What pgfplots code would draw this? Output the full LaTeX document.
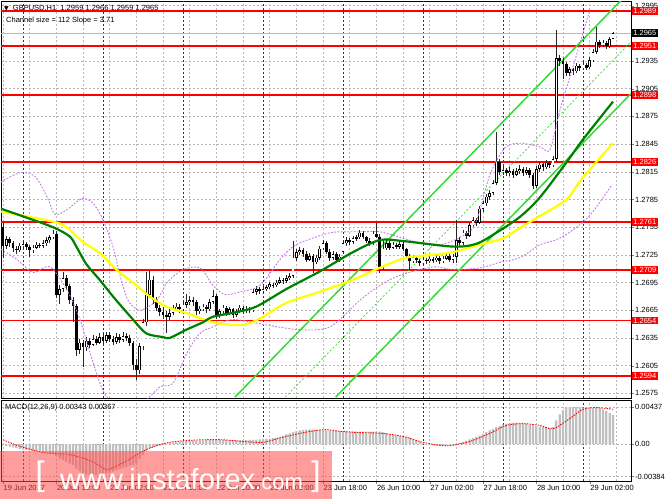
\documentclass[border=0pt]{standalone}
\usepackage{fontspec}
\setmainfont{Liberation Sans}
\newfontfamily\symfont{DejaVu Sans}
\usepackage{pgfplots}
\usepackage{pgfplotstable}
\pgfplotsset{compat=1.18}
\definecolor{mtgreen}{RGB}{0,128,0}
\definecolor{mtyellow}{RGB}{255,255,0}
\definecolor{chan}{RGB}{50,220,50}
\definecolor{viol}{RGB}{195,120,230}
\definecolor{lvl}{RGB}{255,0,0}
\definecolor{gridc}{RGB}{185,185,185}
\definecolor{histc}{RGB}{192,192,192}
\tikzset{lvbox/.style={fill=lvl, text=white, inner sep=1.2pt, anchor=west, font=\fontsize{7.5}{8}\selectfont, xshift=1pt}}

\pgfplotstableread{
i o h l c
0 1.2755 1.2760 1.2722 1.2735
1 1.2735 1.2746 1.2731 1.2742
2 1.2742 1.2745 1.2734 1.2738
3 1.2738 1.2740 1.2728 1.2732
4 1.2732 1.2735 1.2726 1.2730
5 1.2730 1.2738 1.2728 1.2735
6 1.2735 1.2740 1.2732 1.2737
7 1.2737 1.2739 1.2730 1.2734
8 1.2734 1.2736 1.2723 1.2730
9 1.2730 1.2736 1.2727 1.2733
10 1.2733 1.2739 1.2731 1.2736
11 1.2736 1.2738 1.2732 1.2735
12 1.2735 1.2741 1.2733 1.2738
13 1.2738 1.2744 1.2735 1.2741
14 1.2741 1.2747 1.2738 1.2744
15 1.2744 1.2752 1.2742 1.2748
16 1.2748 1.2751 1.2678 1.2682
17 1.2682 1.2692 1.2672 1.2688
18 1.2688 1.2706 1.2685 1.2700
19 1.2700 1.2703 1.2687 1.2691
20 1.2691 1.2694 1.2672 1.2676
21 1.2676 1.2680 1.2652 1.2670
22 1.2670 1.2672 1.2616 1.2622
23 1.2622 1.2634 1.2618 1.2630
24 1.2630 1.2633 1.2604 1.2625
25 1.2625 1.2636 1.2621 1.2632
26 1.2632 1.2635 1.2624 1.2628
27 1.2628 1.2638 1.2626 1.2634
28 1.2634 1.2637 1.2627 1.2630
29 1.2630 1.2640 1.2628 1.2636
30 1.2636 1.2639 1.2629 1.2632
31 1.2632 1.2642 1.2630 1.2638
32 1.2638 1.2641 1.2631 1.2634
33 1.2634 1.2637 1.2628 1.2631
34 1.2631 1.2640 1.2629 1.2636
35 1.2636 1.2639 1.2630 1.2633
36 1.2633 1.2641 1.2631 1.2637
37 1.2637 1.2640 1.2632 1.2635
38 1.2635 1.2638 1.2626 1.2630
39 1.2630 1.2632 1.2600 1.2606
40 1.2606 1.2612 1.2590 1.2600
41 1.2600 1.2630 1.2596 1.2626
42 1.2626 1.2656 1.2622 1.2652
43 1.2652 1.2707 1.2648 1.2682
44 1.2682 1.2708 1.2678 1.2698
45 1.2698 1.2702 1.2672 1.2676
46 1.2676 1.2679 1.2664 1.2668
47 1.2668 1.2671 1.2659 1.2663
48 1.2663 1.2669 1.2656 1.2660
49 1.2660 1.2664 1.2641 1.2658
50 1.2658 1.2666 1.2655 1.2662
51 1.2662 1.2671 1.2660 1.2667
52 1.2667 1.2673 1.2664 1.2669
53 1.2669 1.2672 1.2662 1.2666
54 1.2666 1.2675 1.2664 1.2671
55 1.2671 1.2683 1.2668 1.2674
56 1.2674 1.2680 1.2671 1.2676
57 1.2676 1.2679 1.2670 1.2674
58 1.2674 1.2676 1.2660 1.2664
59 1.2664 1.2670 1.2661 1.2667
60 1.2667 1.2672 1.2664 1.2669
61 1.2669 1.2671 1.2662 1.2666
62 1.2666 1.2677 1.2664 1.2674
63 1.2674 1.2687 1.2672 1.2680
64 1.2680 1.2683 1.2656 1.2660
65 1.2660 1.2667 1.2657 1.2664
66 1.2664 1.2671 1.2661 1.2668
67 1.2668 1.2670 1.2659 1.2662
68 1.2662 1.2669 1.2660 1.2666
69 1.2666 1.2668 1.2657 1.2660
70 1.2660 1.2667 1.2658 1.2664
71 1.2664 1.2671 1.2662 1.2668
72 1.2668 1.2670 1.2661 1.2664
73 1.2664 1.2670 1.2662 1.2667
74 1.2667 1.2669 1.2662 1.2665
75 1.2665 1.2688 1.2663 1.2685
76 1.2685 1.2691 1.2682 1.2688
77 1.2688 1.2690 1.2683 1.2686
78 1.2686 1.2691 1.2684 1.2688
79 1.2688 1.2693 1.2686 1.2690
80 1.2690 1.2696 1.2688 1.2693
81 1.2693 1.2695 1.2689 1.2692
82 1.2692 1.2698 1.2690 1.2695
83 1.2695 1.2701 1.2693 1.2698
84 1.2698 1.2700 1.2694 1.2697
85 1.2697 1.2703 1.2695 1.2700
86 1.2700 1.2705 1.2698 1.2702
87 1.2702 1.2740 1.2700 1.2722
88 1.2722 1.2732 1.2719 1.2728
89 1.2728 1.2734 1.2725 1.2730
90 1.2730 1.2733 1.2723 1.2726
91 1.2726 1.2729 1.2717 1.2720
92 1.2720 1.2727 1.2718 1.2724
93 1.2724 1.2726 1.2705 1.2717
94 1.2717 1.2725 1.2715 1.2722
95 1.2722 1.2735 1.2720 1.2732
96 1.2732 1.2741 1.2730 1.2738
97 1.2738 1.2740 1.2726 1.2728
98 1.2728 1.2731 1.2719 1.2722
99 1.2722 1.2729 1.2720 1.2726
100 1.2726 1.2728 1.2716 1.2719
101 1.2719 1.2726 1.2717 1.2723
102 1.2728 1.2741 1.2726 1.2738
103 1.2738 1.2744 1.2735 1.2741
104 1.2741 1.2743 1.2736 1.2739
105 1.2739 1.2746 1.2737 1.2743
106 1.2743 1.2747 1.2740 1.2744
107 1.2744 1.2752 1.2742 1.2749
108 1.2749 1.2751 1.2742 1.2744
109 1.2744 1.2746 1.2738 1.2740
110 1.2740 1.2743 1.2735 1.2738
111 1.2738 1.2751 1.2736 1.2748
112 1.2748 1.2760 1.2743 1.2745
113 1.2745 1.2748 1.2706 1.2712
114 1.2712 1.2740 1.2709 1.2732
115 1.2732 1.2741 1.2730 1.2738
116 1.2738 1.2740 1.2730 1.2733
117 1.2733 1.2739 1.2731 1.2736
118 1.2736 1.2738 1.2731 1.2734
119 1.2734 1.2740 1.2732 1.2737
120 1.2737 1.2739 1.2729 1.2731
121 1.2731 1.2733 1.2722 1.2724
122 1.2724 1.2726 1.2709 1.2718
123 1.2718 1.2725 1.2716 1.2722
124 1.2722 1.2724 1.2716 1.2719
125 1.2719 1.2721 1.2713 1.2716
126 1.2716 1.2723 1.2714 1.2720
127 1.2720 1.2722 1.2715 1.2718
128 1.2718 1.2724 1.2716 1.2721
129 1.2721 1.2723 1.2716 1.2719
130 1.2719 1.2725 1.2717 1.2722
131 1.2722 1.2724 1.2715 1.2718
132 1.2718 1.2724 1.2716 1.2721
133 1.2721 1.2727 1.2719 1.2724
134 1.2724 1.2726 1.2717 1.2720
135 1.2720 1.2726 1.2716 1.2723
136 1.2723 1.2763 1.2716 1.2741
137 1.2741 1.2744 1.2734 1.2738
138 1.2738 1.2752 1.2736 1.2749
139 1.2749 1.2751 1.2742 1.2746
140 1.2746 1.2760 1.2744 1.2757
141 1.2757 1.2766 1.2754 1.2763
142 1.2763 1.2765 1.2756 1.2760
143 1.2760 1.2778 1.2758 1.2775
144 1.2775 1.2784 1.2772 1.2781
145 1.2781 1.2791 1.2778 1.2788
146 1.2788 1.2795 1.2785 1.2792
147 1.2792 1.2806 1.2790 1.2803
148 1.2803 1.2858 1.2801 1.2826
149 1.2826 1.2829 1.2812 1.2815
150 1.2815 1.2821 1.2812 1.2817
151 1.2817 1.2819 1.2810 1.2814
152 1.2814 1.2820 1.2811 1.2816
153 1.2816 1.2818 1.2808 1.2812
154 1.2812 1.2819 1.2810 1.2816
155 1.2816 1.2822 1.2813 1.2818
156 1.2818 1.2820 1.2811 1.2814
157 1.2814 1.2820 1.2812 1.2817
158 1.2817 1.2819 1.2808 1.2812
159 1.2812 1.2814 1.2796 1.2800
160 1.2800 1.2821 1.2798 1.2818
161 1.2818 1.2826 1.2815 1.2823
162 1.2823 1.2825 1.2816 1.2820
163 1.2820 1.2828 1.2818 1.2825
164 1.2825 1.2827 1.2819 1.2822
165 1.2822 1.2832 1.2820 1.2829
166 1.2829 1.2969 1.2826 1.2938
167 1.2938 1.2942 1.2930 1.2935
168 1.2935 1.2938 1.2915 1.2932
169 1.2932 1.2934 1.2919 1.2922
170 1.2922 1.2929 1.2919 1.2926
171 1.2926 1.2928 1.2920 1.2924
172 1.2924 1.2933 1.2922 1.2930
173 1.2930 1.2932 1.2924 1.2927
174 1.2927 1.2934 1.2925 1.2931
175 1.2931 1.2933 1.2925 1.2928
176 1.2928 1.2939 1.2926 1.2936
177 1.2936 1.2948 1.2934 1.2945
178 1.2945 1.2972 1.2943 1.2956
179 1.2956 1.2958 1.2949 1.2952
180 1.2952 1.2958 1.2950 1.2955
181 1.2955 1.2957 1.2948 1.2951
182 1.2951 1.2961 1.2949 1.2959
183 1.2959 1.2966 1.2959 1.2965
}\candles

\pgfplotstableread[row sep=\\]{
i m\\ 0 -20\\ 1 -25\\ 2 -30\\ 3 -40\\ 4 -50\\ 5 -60\\ 6 -65\\ 7 -70\\ 8 -75\\ 9 -80\\
10 -85\\ 11 -90\\ 12 -95\\ 13 -100\\ 14 -105\\ 15 -110\\ 16 -140\\ 17 -170\\ 18 -190\\ 19 -210\\
20 -230\\ 21 -250\\ 22 -290\\ 23 -320\\ 24 -345\\ 25 -360\\ 26 -370\\ 27 -372\\ 28 -370\\ 29 -365\\
30 -360\\ 31 -350\\ 32 -340\\ 33 -325\\ 34 -310\\ 35 -295\\ 36 -280\\ 37 -270\\ 38 -255\\ 39 -250\\
40 -230\\ 41 -180\\ 42 -130\\ 43 -80\\ 44 -50\\ 45 -40\\ 46 -25\\ 47 -15\\ 48 -5\\ 49 5\\
50 10\\ 51 15\\ 52 20\\ 53 25\\ 54 30\\ 55 35\\ 56 35\\ 57 40\\ 58 40\\ 59 40\\
60 42\\ 61 45\\ 62 48\\ 63 50\\ 64 50\\ 65 48\\ 66 48\\ 67 45\\ 68 45\\ 69 45\\
70 45\\ 71 45\\ 72 45\\ 73 45\\ 74 48\\ 75 50\\ 76 52\\ 77 55\\ 78 58\\ 79 60\\
80 65\\ 81 70\\ 82 75\\ 83 85\\ 84 100\\ 85 115\\ 86 125\\ 87 140\\ 88 150\\ 89 160\\
90 165\\ 91 170\\ 92 172\\ 93 170\\ 94 168\\ 95 165\\ 96 165\\ 97 162\\ 98 160\\ 99 158\\
100 155\\ 101 152\\ 102 150\\ 103 148\\ 104 145\\ 105 145\\ 106 145\\ 107 145\\ 108 145\\ 109 145\\
110 145\\ 111 145\\ 112 145\\ 113 145\\ 114 140\\ 115 130\\ 116 120\\ 117 110\\ 118 100\\ 119 95\\
120 90\\ 121 85\\ 122 75\\ 123 55\\ 124 40\\ 125 25\\ 126 10\\ 127 0\\ 128 -10\\ 129 -15\\
130 -20\\ 131 -20\\ 132 -20\\ 133 -18\\ 134 -15\\ 135 -10\\ 136 0\\ 137 10\\ 138 25\\ 139 40\\
140 55\\ 141 70\\ 142 85\\ 143 100\\ 144 120\\ 145 140\\ 146 160\\ 147 180\\ 148 200\\ 149 215\\
150 230\\ 151 240\\ 152 250\\ 153 250\\ 154 250\\ 155 248\\ 156 245\\ 157 240\\ 158 230\\ 159 220\\
160 210\\ 161 205\\ 162 200\\ 163 200\\ 164 195\\ 165 200\\ 166 280\\ 167 350\\ 168 400\\ 169 430\\
170 437\\ 171 437\\ 172 435\\ 173 432\\ 174 430\\ 175 428\\ 176 428\\ 177 428\\ 178 430\\ 179 425\\
180 410\\ 181 390\\ 182 365\\ 183 343\\
}\macd

\begin{document}
\begin{tikzpicture}[x=1pt,y=1pt]
\useasboundingbox (0,0) rectangle (665,499);
\pgfplotsset{
  mtbase/.style={
    scale only axis, anchor=south west, xmin=-0.6, xmax=188.4,
    clip mode=individual,
    axis line style={black, line width=0.6pt},
    tick align=outside, major tick length=3pt,
    ytick pos=right, yticklabel pos=right,
    yticklabel style={anchor=west, inner sep=1pt, font=\fontsize{7.5}{8}\selectfont},
    grid=both,
    major grid style={gridc, dash pattern=on 2pt off 2pt, line width=0.5pt},
    minor grid style={gridc, dash pattern=on 2pt off 2pt, line width=0.5pt},
    minor tick length=0pt,
    extra x ticks={6,30,54,78,102,126,150,174}, extra x tick labels={},
    extra x tick style={grid=major, major grid style={black!80, dash pattern=on 2pt off 2pt, line width=0.6pt}, major tick length=0pt},
  },
  lvline/.style={lvl, line width=1.8pt, forget plot},
  vband/.style={viol, line width=0.9pt, dash pattern=on 1.8pt off 1.5pt, smooth},
}
% ---------------- main panel
\begin{axis}[mtbase,
  at={(1pt,101pt)}, width=630pt, height=397pt,
  ymin=1.2570, ymax=1.3000,
  xtick={0,16,...,176}, minor xtick={8,24,...,184}, xticklabels={}, xtick style={draw=none},
  ytick={1.2575,1.2605,1.2635,1.2665,1.2695,1.2725,1.2755,1.2785,1.2815,1.2845,1.2875,1.2905,1.2935,1.2965,1.2995},
  yticklabels={1.2575,1.2605,1.2635,1.2665,1.2695,1.2725,1.2755,1.2785,1.2815,1.2845,1.2875,1.2905,1.2935,1.2965,1.2995},
]
\addplot[gridc, line width=0.6pt, forget plot] coordinates {(-0.6,1.2965) (188.4,1.2965)};
\addplot[lvline] coordinates {(-0.6,1.2989) (188.4,1.2989)};
\addplot[lvline] coordinates {(-0.6,1.2951) (188.4,1.2951)};
\addplot[lvline] coordinates {(-0.6,1.2898) (188.4,1.2898)};
\addplot[lvline] coordinates {(-0.6,1.2826) (188.4,1.2826)};
\addplot[lvline] coordinates {(-0.6,1.2761) (188.4,1.2761)};
\addplot[lvline] coordinates {(-0.6,1.2709) (188.4,1.2709)};
\addplot[lvline] coordinates {(-0.6,1.2654) (188.4,1.2654)};
\addplot[lvline] coordinates {(-0.6,1.2594) (188.4,1.2594)};
\addplot[chan, line width=1.5pt] coordinates {(69.6,1.2571) (188.4,1.30117)};
\addplot[chan, line width=1.5pt] coordinates {(99.8,1.2571) (188.4,1.28997)};
\addplot[chan, line width=0.7pt, dash pattern=on 2pt off 2pt] coordinates {(84.7,1.2571) (188.4,1.29557)};
\addplot[draw=none, mark=none, forget plot,
  error bars/.cd, y dir=both, y explicit, error mark=none,
  error bar style={draw=black!85, line width=0.8pt}]
  table[x=i, y expr={(\thisrow{h}+\thisrow{l})/2}, y error expr={(\thisrow{h}-\thisrow{l})/2}] {\candles};
\addplot[draw=none, mark=none, forget plot,
  error bars/.cd, y dir=both, y explicit, error mark=none,
  error bar style={draw=black, line width=2.8pt}]
  table[x=i, y expr={(\thisrow{o}+\thisrow{c})/2}, y error expr={max(abs(\thisrow{c}-\thisrow{o})/2,0.00004)}] {\candles};
\addplot[draw=none, mark=none, forget plot,
  error bars/.cd, y dir=both, y explicit, error mark=none,
  error bar style={draw=white, line width=1.6pt}]
  table[x=i, y expr={(\thisrow{o}+\thisrow{c})/2}, y error expr={(\thisrow{c}>\thisrow{o}) ? max((\thisrow{c}-\thisrow{o})/2-0.00007,0) : 0}] {\candles};
% bands
\addplot[vband] coordinates {
(-0.6,1.2804) (5.1,1.2814) (9.6,1.2810) (13.2,1.2788) (15.6,1.2769) (19.2,1.2774) (23.7,1.2786) (27.0,1.2781) (30.0,1.2763) (33.0,1.2734) (35.1,1.2703) (37.5,1.2676) (41.1,1.2665) (46.2,1.2676) (49.2,1.2695) (54.0,1.2709) (59.1,1.2711) (63.0,1.2692) (66.6,1.2682) (71.1,1.2685) (77.1,1.2692) (83.1,1.2720) (87.0,1.2734) (91.2,1.2741) (98.1,1.2749) (102.6,1.2750) (107.1,1.2750) (113.1,1.2750) (119.1,1.2744) (125.1,1.2738) (131.1,1.2736) (137.1,1.2744) (141.6,1.2758) (146.1,1.2812) (150.6,1.2841) (155.1,1.2846) (161.1,1.2842) (164.1,1.2839) (167.1,1.2882) (171.6,1.2936) (176.1,1.2991)};
\addplot[vband] coordinates {
(-0.6,1.2731) (4.2,1.2720) (9.0,1.2706) (14.1,1.2712) (19.2,1.2687) (23.1,1.2655) (26.1,1.2619) (29.1,1.2586) (31.2,1.2571) (35,1.2560) (41,1.2562) (47.1,1.2582) (51.0,1.2586) (55.2,1.2619) (59.1,1.2640) (63.0,1.2647) (69.0,1.2655) (79.2,1.2649) (89.1,1.2644) (98.1,1.2647) (107.1,1.2676) (113.1,1.2692) (119.1,1.2703) (129.0,1.2712) (135.0,1.2709) (143.1,1.2711) (149.1,1.2717) (155.1,1.2722) (161.1,1.2736) (165.7,1.2741) (170.2,1.2750) (176.1,1.2768) (182.7,1.2801)};
% moving averages
\addplot[mtyellow, line width=2.2pt, smooth] coordinates {
(-0.6,1.2772) (15,1.2761) (19,1.2755) (24,1.2739) (29,1.2727) (34,1.2709) (39,1.2695) (44,1.2680) (49,1.2669) (55,1.2662) (63,1.2652) (70,1.2649) (74,1.2651) (78,1.2658) (85,1.2673) (95,1.2685) (105,1.2698) (113,1.2711) (121,1.2722) (129,1.2725) (135,1.2728) (143,1.2736) (150,1.2743) (155,1.2754) (161,1.2767) (169,1.2785) (174,1.2809) (183,1.2846)};
\addplot[mtgreen, line width=2.2pt, smooth] coordinates {
(-0.6,1.2775) (5,1.2768) (15,1.2755) (20,1.2745) (22,1.2734) (25,1.2715) (29,1.2698) (33,1.2680) (39,1.2655) (43,1.2640) (48,1.2636) (50,1.2635) (55,1.2644) (60,1.2652) (63,1.2658) (70,1.2663) (76,1.2669) (85,1.2688) (95,1.2707) (105,1.2728) (113,1.2741) (120,1.2740) (135,1.2734) (142,1.2737) (148,1.2749) (155,1.2766) (161,1.2787) (169,1.2825) (174,1.2850) (183,1.2891)};
\node[lvbox] at (axis cs:188.4,1.2989) {1.2989};
\node[lvbox] at (axis cs:188.4,1.2951) {1.2951};
\node[lvbox] at (axis cs:188.4,1.2898) {1.2898};
\node[lvbox] at (axis cs:188.4,1.2826) {1.2826};
\node[lvbox] at (axis cs:188.4,1.2761) {1.2761};
\node[lvbox] at (axis cs:188.4,1.2709) {1.2709};
\node[lvbox] at (axis cs:188.4,1.2654) {1.2654};
\node[lvbox] at (axis cs:188.4,1.2594) {1.2594};
\node[lvbox, fill=black] at (axis cs:188.4,1.2965) {1.2965};
\end{axis}
\begin{axis}[mtbase,
  at={(1pt,18pt)}, width=630pt, height=81pt,
  ymin=-437, ymax=520,
  xtick={0,16,...,176}, minor xtick={8,24,...,184},
  xticklabels={19 Jun 2017,20 Jun 10:00,21 Jun 02:00,21 Jun 18:00,22 Jun 10:00,23 Jun 02:00,23 Jun 18:00,26 Jun 10:00,27 Jun 02:00,27 Jun 18:00,28 Jun 10:00,29 Jun 02:00},
  xticklabel style={anchor=north west, inner sep=1pt, xshift=-0.5pt, font=\fontsize{7.5}{8}\selectfont},
  xtick pos=bottom,
  ytick={-384,0,437}, yticklabels={-0.00384,0.00,0.00437},
]
\addplot[ybar, bar width=2.2pt, fill=histc, draw=none] table[x=i, y=m] {\macd};
\addplot[red, line width=0.9pt, dash pattern=on 1.5pt off 1.2pt, smooth] coordinates {
(0,50) (5,-27) (12,-100) (16,-114) (20,-125) (25,-180) (29,-255) (31,-305) (34,-260) (38,-180) (42,-84) (46,-20) (50,20) (55,40) (60,50) (66,50) (72,30) (78,20) (83,70) (89,125) (94,160) (97,170) (101,150) (107,135) (112,130) (117,110) (121,80) (125,30) (130,-10) (134,-20) (140,30) (146,125) (151,220) (156,240) (161,220) (165,180) (170,300) (174,410) (178,430) (183,410)};
\end{axis}
\node[anchor=west, inner sep=0pt, font=\fontsize{7.5}{8}\selectfont] at (4,491) {{\symfont\fontsize{6}{7}\selectfont▼}\ \ GBPUSD,H1\ \ 1.2959 1.2966 1.2959 1.2965};
\node[anchor=west, inner sep=0pt, font=\fontsize{7.5}{8}\selectfont] at (6,478) {Channel size = 112 Slope = 3.71};
\node[anchor=west, inner sep=0pt, font=\fontsize{7.5}{8}\selectfont] at (5,91) {MACD(12,26,9) 0.00343 0.00367};
\fill[red!70!white, opacity=0.55] (0,0) rectangle (332,48);
\node[white, inner sep=0pt, font=\fontsize{34}{34}\selectfont] at (40,22) {[};
\node[white, inner sep=0pt, font=\fontsize{34}{34}\selectfont] at (316,22) {]};
\node[white, anchor=base west, inner sep=0pt] at (60,10) {{\fontsize{29}{30}\selectfont www.instaforex}{\fontsize{22}{24}\selectfont .com}};
\end{tikzpicture}
\end{document}
